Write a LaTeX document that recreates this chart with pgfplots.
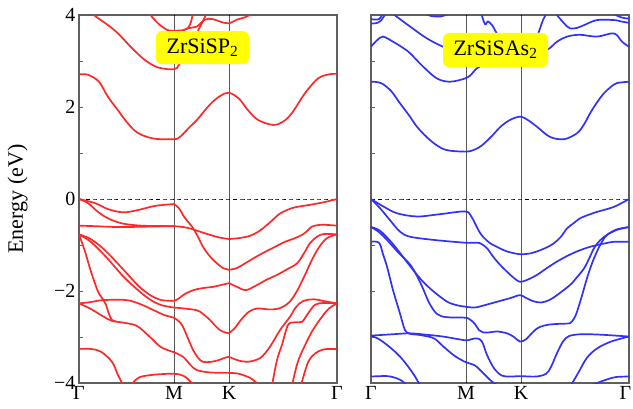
\documentclass[border=0pt]{standalone}
\usepackage{fontspec}
\setmainfont{Liberation Serif}
\usepackage{pgfplots}
\pgfplotsset{compat=1.18}
\definecolor{bandred}{RGB}{255,40,40}
\definecolor{bandblue}{RGB}{50,50,245}
\definecolor{framegray}{RGB}{95,95,95}
\definecolor{labelyellow}{RGB}{255,255,0}
\pgfplotsset{bandaxis/.style={
  scale only axis, width=258pt, height=368pt,
  xmin=0, xmax=258, ymin=-4, ymax=4,
  xtick={0,95,150,258}, xticklabels={Γ,M,K,Γ},
  xtick style={draw=none},
  ytick={-4,-2,0,2,4},
  minor ytick={-3,-1,1,3},
  ytick pos=left,
  tick align=inside,
  major tick length=4pt, minor tick length=4pt,
  every tick/.style={framegray, line width=1pt},
  axis line style={framegray, line width=1.4pt},
  tick label style={font=\fontsize{20}{20}\selectfont},
  clip=true,
  every axis plot/.append style={line width=1.7pt, smooth, tension=0.55},
}}
\begin{document}
\begin{tikzpicture}
\path[use as bounding box] (-79pt,-25pt) rectangle (554pt,383pt);
% ---------------- left panel ----------------
\begin{axis}[bandaxis, at={(0pt,0pt)}, anchor=south west,
  yticklabels={−4,−2,0,2,4},
  ylabel={Energy (eV)},
  ylabel style={font=\fontsize{22}{22}\selectfont, at={(axis description cs:-0.238,0.5)}, anchor=center}]
\addplot[black, line width=0.9pt] coordinates {(95,-4) (95,4)};
\addplot[black, line width=0.9pt] coordinates {(150,-4) (150,4)};
\addplot[black, line width=0.8pt, dashed, dash pattern=on 4pt off 3pt] coordinates {(0,0) (258,0)};
% conduction
\addplot[bandred] coordinates {(0,2.71) (9,2.70) (20,2.55) (29,2.22) (40,1.90) (46,1.72) (55,1.50) (63,1.39) (76,1.31) (95,1.30) (101,1.35) (110,1.55) (118,1.72) (126,1.93) (134,2.12) (142,2.25) (150,2.31) (160,2.18) (169,1.93) (179,1.72) (194,1.61) (204,1.68) (213,1.87) (226,2.30) (239,2.62) (250,2.71) (258,2.72)};
\addplot[bandred] coordinates {(14,4.05) (16,3.98) (29,3.78) (39,3.60) (53,3.28) (66,3.02) (79,2.86) (95,2.82) (100,2.92) (110,3.3) (120,3.7) (128,4.05)};
\addplot[bandred] coordinates {(70,4.05) (73,3.96) (81,3.78) (89,3.67) (95,3.66) (104,3.67) (109,3.72) (112,3.85) (114,4.05)};
\addplot[bandred] coordinates {(104,3.67) (111,3.72) (118,3.75) (126,3.90) (134,3.91) (142,3.85) (150,3.82) (158,3.90) (166,3.95) (175,4.05)};
% valence Gamma-M
\addplot[bandred] coordinates {(0,0) (16,-0.09) (29,-0.22) (44,-0.29) (59,-0.24) (76,-0.15) (95,-0.11)};
\addplot[bandred] coordinates {(0,0) (9,-0.09) (19,-0.28) (29,-0.42) (43,-0.53) (63,-0.58) (95,-0.59)};
\addplot[bandred] coordinates {(0,-0.58) (15,-0.59) (40,-0.61) (70,-0.60) (95,-0.59)};
\addplot[bandred] coordinates {(0,-0.77) (10,-0.85) (20,-1.0) (30,-1.2) (45,-1.55) (60,-1.9) (72,-2.1) (83,-2.2) (95,-2.21)};
\addplot[bandred] coordinates {(0,-0.77) (10,-0.9) (20,-1.1) (30,-1.33) (45,-1.7) (60,-2.0) (72,-2.2) (83,-2.31) (95,-2.36)};
\addplot[bandred] coordinates {(0,-0.77) (6,-1.14) (12,-1.58) (19,-2.01) (24,-2.18) (27,-2.3) (30,-2.5) (33,-2.63) (37,-2.66)};
\addplot[bandred] coordinates {(0,-2.27) (12,-2.24) (23,-2.20) (40,-2.19) (51,-2.21) (63,-2.30) (74,-2.41) (85,-2.52) (95,-2.58)};
\addplot[bandred] coordinates {(0,-2.27) (11,-2.38) (24,-2.55) (33,-2.65) (45,-2.69) (58,-2.76) (70,-2.98) (82,-3.22) (95,-3.33)};
\addplot[bandred] coordinates {(0,-3.26) (12,-3.26) (22,-3.32) (33,-3.54) (39,-3.83) (43,-4.0) (45,-4.2)};
\addplot[bandred] coordinates {(52,-4.05) (60,-3.88) (75,-3.82) (95,-3.80) (105,-3.85) (113,-4.0) (118,-4.1)};
% M-K
\addplot[bandred] coordinates {(95,-0.11) (100,-0.2) (104,-0.35) (108,-0.47) (113,-0.60) (119,-0.82) (124,-1.04) (131,-1.25) (138,-1.40) (144,-1.50) (150,-1.54)};
\addplot[bandred] coordinates {(95,-0.59) (104,-0.61) (111,-0.64) (121,-0.71) (131,-0.78) (141,-0.84) (150,-0.87)};
\addplot[bandred] coordinates {(95,-2.22) (100,-2.16) (104,-2.09) (111,-2.01) (118,-1.96) (126,-1.93) (134,-1.91) (142,-1.87) (150,-1.83)};
\addplot[bandred] coordinates {(95,-2.36) (105,-2.38) (118,-2.42) (124,-2.5) (131,-2.63) (136,-2.75) (141,-2.85) (146,-2.90) (150,-2.92)};
\addplot[bandred] coordinates {(95,-2.58) (100,-2.66) (104,-2.78) (109,-3.03) (114,-3.28) (119,-3.45) (124,-3.54) (132,-3.54) (140,-3.50) (146,-3.45) (150,-3.43)};
\addplot[bandred] coordinates {(95,-3.33) (100,-3.38) (104,-3.43) (108,-3.52) (112,-3.62) (118,-3.72) (131,-3.77) (150,-3.78)};
% K-Gamma
\addplot[bandred] coordinates {(150,-0.87) (160,-0.85) (171,-0.80) (180,-0.70) (186,-0.60) (193,-0.47) (200,-0.33) (208,-0.24) (216,-0.18) (230,-0.13) (245,-0.07) (258,0)};
\addplot[bandred] coordinates {(150,-1.54) (158,-1.50) (166,-1.40) (176,-1.27) (186,-1.15) (196,-1.04) (206,-0.93) (215,-0.86) (223,-0.78) (228,-0.70) (233,-0.60) (243,-0.56) (258,-0.58)};
\addplot[bandred] coordinates {(150,-1.83) (158,-1.91) (167,-1.98) (178,-1.87) (188,-1.75) (198,-1.65) (208,-1.53) (218,-1.40) (225,-1.18) (231,-0.96) (238,-0.82) (245,-0.76) (258,-0.77)};
\addplot[bandred] coordinates {(150,-2.92) (156,-2.80) (163,-2.60) (170,-2.45) (178,-2.38) (190,-2.40) (200,-2.38) (210,-2.25) (218,-2.0) (226,-1.65) (233,-1.32) (240,-1.05) (248,-0.85) (258,-0.77)};
\addplot[bandred] coordinates {(150,-3.43) (158,-3.50) (168,-3.54) (181,-3.46) (191,-3.21) (201,-2.85) (211,-2.56) (217,-2.35) (224,-2.22) (235,-2.18) (245,-2.22) (258,-2.27)};
\addplot[bandred] coordinates {(193,-4.05) (198,-3.5) (203,-3.17) (209,-2.74) (216,-2.68) (223,-2.67) (229,-2.49) (236,-2.30) (245,-2.26) (258,-2.27)};
\addplot[bandred] coordinates {(213,-4.05) (218,-3.6) (223,-3.32) (233,-2.88) (243,-2.56) (250,-2.38) (258,-2.27)};
\addplot[bandred] coordinates {(222,-4.05) (229,-3.55) (236,-3.36) (243,-3.28) (249,-3.26) (258,-3.26)};
\addplot[bandred] coordinates {(150,-3.78) (160,-3.80) (172,-3.90) (180,-4.05)};
\node[fill=labelyellow, rounded corners=6pt, minimum width=93pt, minimum height=33pt, inner sep=0pt, font=\fontsize{22}{22}\selectfont] at (axis cs:123.5,3.29) {ZrSiSP\textsubscript{2}};
\end{axis}
% ---------------- right panel ----------------
\begin{axis}[bandaxis, at={(292pt,0pt)}, anchor=south west, yticklabels={},
  xticklabels={Γ,M,K,\hspace*{-7pt}Γ}]
\addplot[black, line width=0.9pt] coordinates {(95,-4) (95,4)};
\addplot[black, line width=0.9pt] coordinates {(150,-4) (150,4)};
\addplot[black, line width=0.8pt, dashed, dash pattern=on 4pt off 3pt] coordinates {(0,0) (258,0)};
% conduction
\addplot[bandblue] coordinates {(0,2.55) (10,2.52) (20,2.35) (29,2.08) (38,1.82) (46,1.57) (55,1.36) (63,1.21) (71,1.10) (79,1.05) (95,1.03) (102,1.06) (110,1.15) (120,1.35) (130,1.58) (140,1.73) (150,1.79) (158,1.70) (166,1.57) (179,1.35) (193,1.30) (206,1.43) (213,1.62) (219,1.86) (226,2.10) (233,2.30) (240,2.44) (246,2.52) (258,2.55)};
\addplot[bandblue] coordinates {(0,3.31) (6,3.45) (12,3.53) (22,3.42) (31,3.30) (39,3.17) (52,2.88) (66,2.62) (79,2.55) (94,2.62) (100,2.70) (106,2.84) (120,3.0) (140,3.1) (160,3.15) (176,3.24) (186,3.42) (196,3.53) (209,3.57) (226,3.53) (243,3.60) (251,3.42) (258,3.31)};
\addplot[bandblue] coordinates {(20,4.05) (26,3.96) (39,3.75) (56,3.49) (72,3.31) (85,3.2)};
\addplot[bandblue] coordinates {(0,3.82) (5,3.82) (10,3.88) (15,4.05)};
\addplot[bandblue] coordinates {(0,3.91) (8,3.91) (12,4.05)};
\addplot[bandblue] coordinates {(52,4.05) (60,3.98) (70,3.97) (80,4.05)};
\addplot[bandblue] coordinates {(110,4.05) (114,3.80) (117,3.86) (121,3.78) (124,3.67) (128,3.5)};
\addplot[bandblue] coordinates {(160,3.3) (166,3.53) (172,3.89) (176,4.05)};
\addplot[bandblue] coordinates {(184,4.05) (193,3.82) (199,3.71) (206,3.72) (213,3.78) (226,3.89) (243,3.89) (250,3.86) (258,3.83)};
\addplot[bandblue] coordinates {(240,4.05) (250,3.95) (258,3.92)};
% valence
\addplot[bandblue] coordinates {(0,0) (13,-0.17) (26,-0.31) (46,-0.38) (69,-0.33) (94,-0.27) (100,-0.37) (104,-0.53) (108,-0.70) (112,-0.82) (119,-0.96) (126,-1.04) (136,-1.14) (149,-1.20) (160,-1.18) (166,-1.14) (176,-1.05) (183,-0.96) (190,-0.82) (196,-0.64) (203,-0.52) (209,-0.42) (218,-0.34) (226,-0.28) (243,-0.17) (258,0)};
\addplot[bandblue] coordinates {(0,0) (9,-0.20) (19,-0.46) (29,-0.71) (39,-0.82) (63,-0.89) (94,-0.95) (103,-0.95) (109,-0.96) (116,-1.07) (122,-1.25) (129,-1.43) (136,-1.58) (142,-1.70) (149,-1.80) (157,-1.75) (166,-1.65) (176,-1.50) (186,-1.36) (196,-1.24) (206,-1.14) (216,-1.06) (226,-1.0) (235,-0.96) (243,-0.93) (258,-0.93)};
\addplot[bandblue] coordinates {(0,-0.61) (9,-0.69) (22,-0.98) (37,-1.4) (50,-1.75) (62,-2.0) (76,-2.23) (86,-2.31) (94,-2.34) (103,-2.36) (110,-2.33) (120,-2.27) (130,-2.21) (140,-2.15) (149,-2.09) (155,-2.15) (162,-2.22) (170,-2.25) (178,-2.20) (186,-2.09) (199,-1.87) (206,-1.70) (213,-1.51) (218,-1.30) (223,-1.07) (229,-0.90) (236,-0.78) (246,-0.67) (258,-0.61)};
\addplot[bandblue] coordinates {(0,-0.61) (8,-0.72) (16,-0.89) (28,-1.18) (40,-1.45) (50,-1.85) (58,-2.25) (66,-2.50) (76,-2.57) (94,-2.58) (99,-2.62) (104,-2.72) (108,-2.85) (112,-2.90) (118,-2.90) (126,-2.88) (136,-2.92) (143,-3.0) (149,-3.10) (155,-3.05) (159,-2.96) (164,-2.85) (169,-2.78) (178,-2.73) (192,-2.71) (199,-2.70) (203,-2.6) (206,-2.45) (211,-2.1) (216,-1.72) (221,-1.40) (226,-1.14) (231,-0.93) (236,-0.78) (246,-0.66) (258,-0.61)};
\addplot[bandblue] coordinates {(0,-2.97) (22,-2.94) (39,-2.92) (55,-2.95) (72,-2.99) (94,-3.07) (100,-3.05) (106,-3.03) (111,-3.10) (116,-3.39) (123,-3.68) (131,-3.84) (140,-3.86) (149,-3.85) (165,-3.86) (175,-3.80) (180,-3.65) (186,-3.35) (192,-3.10) (198,-2.98) (210,-2.94) (230,-2.95) (258,-2.99)};
\addplot[bandblue] coordinates {(0,-0.93) (8,-0.95) (12,-1.2) (16,-1.47) (22,-1.98) (29,-2.49) (34,-2.85) (39,-2.93) (50,-2.96) (63,-3.03) (72,-3.2) (83,-3.4) (94,-3.54) (104,-3.62) (112,-3.78) (120,-3.95) (126,-4.05)};
\addplot[bandblue] coordinates {(0,-2.97) (9,-3.06) (22,-3.28) (32,-3.50) (42,-3.79) (47,-3.97) (49,-4.05)};
\addplot[bandblue] coordinates {(0,-3.86) (16,-3.85) (26,-3.90) (32,-3.97) (35,-4.05)};
\addplot[bandblue] coordinates {(200,-4.05) (208,-3.75) (216,-3.45) (226,-3.25) (240,-3.1) (258,-2.99)};
\addplot[bandblue] coordinates {(220,-4.05) (235,-3.93) (245,-3.87) (258,-3.86)};
\node[fill=labelyellow, rounded corners=6pt, minimum width=105pt, minimum height=34pt, inner sep=0pt, font=\fontsize{22}{22}\selectfont] at (axis cs:124.5,3.24) {ZrSiSAs\textsubscript{2}};
\end{axis}
\end{tikzpicture}
\end{document}
